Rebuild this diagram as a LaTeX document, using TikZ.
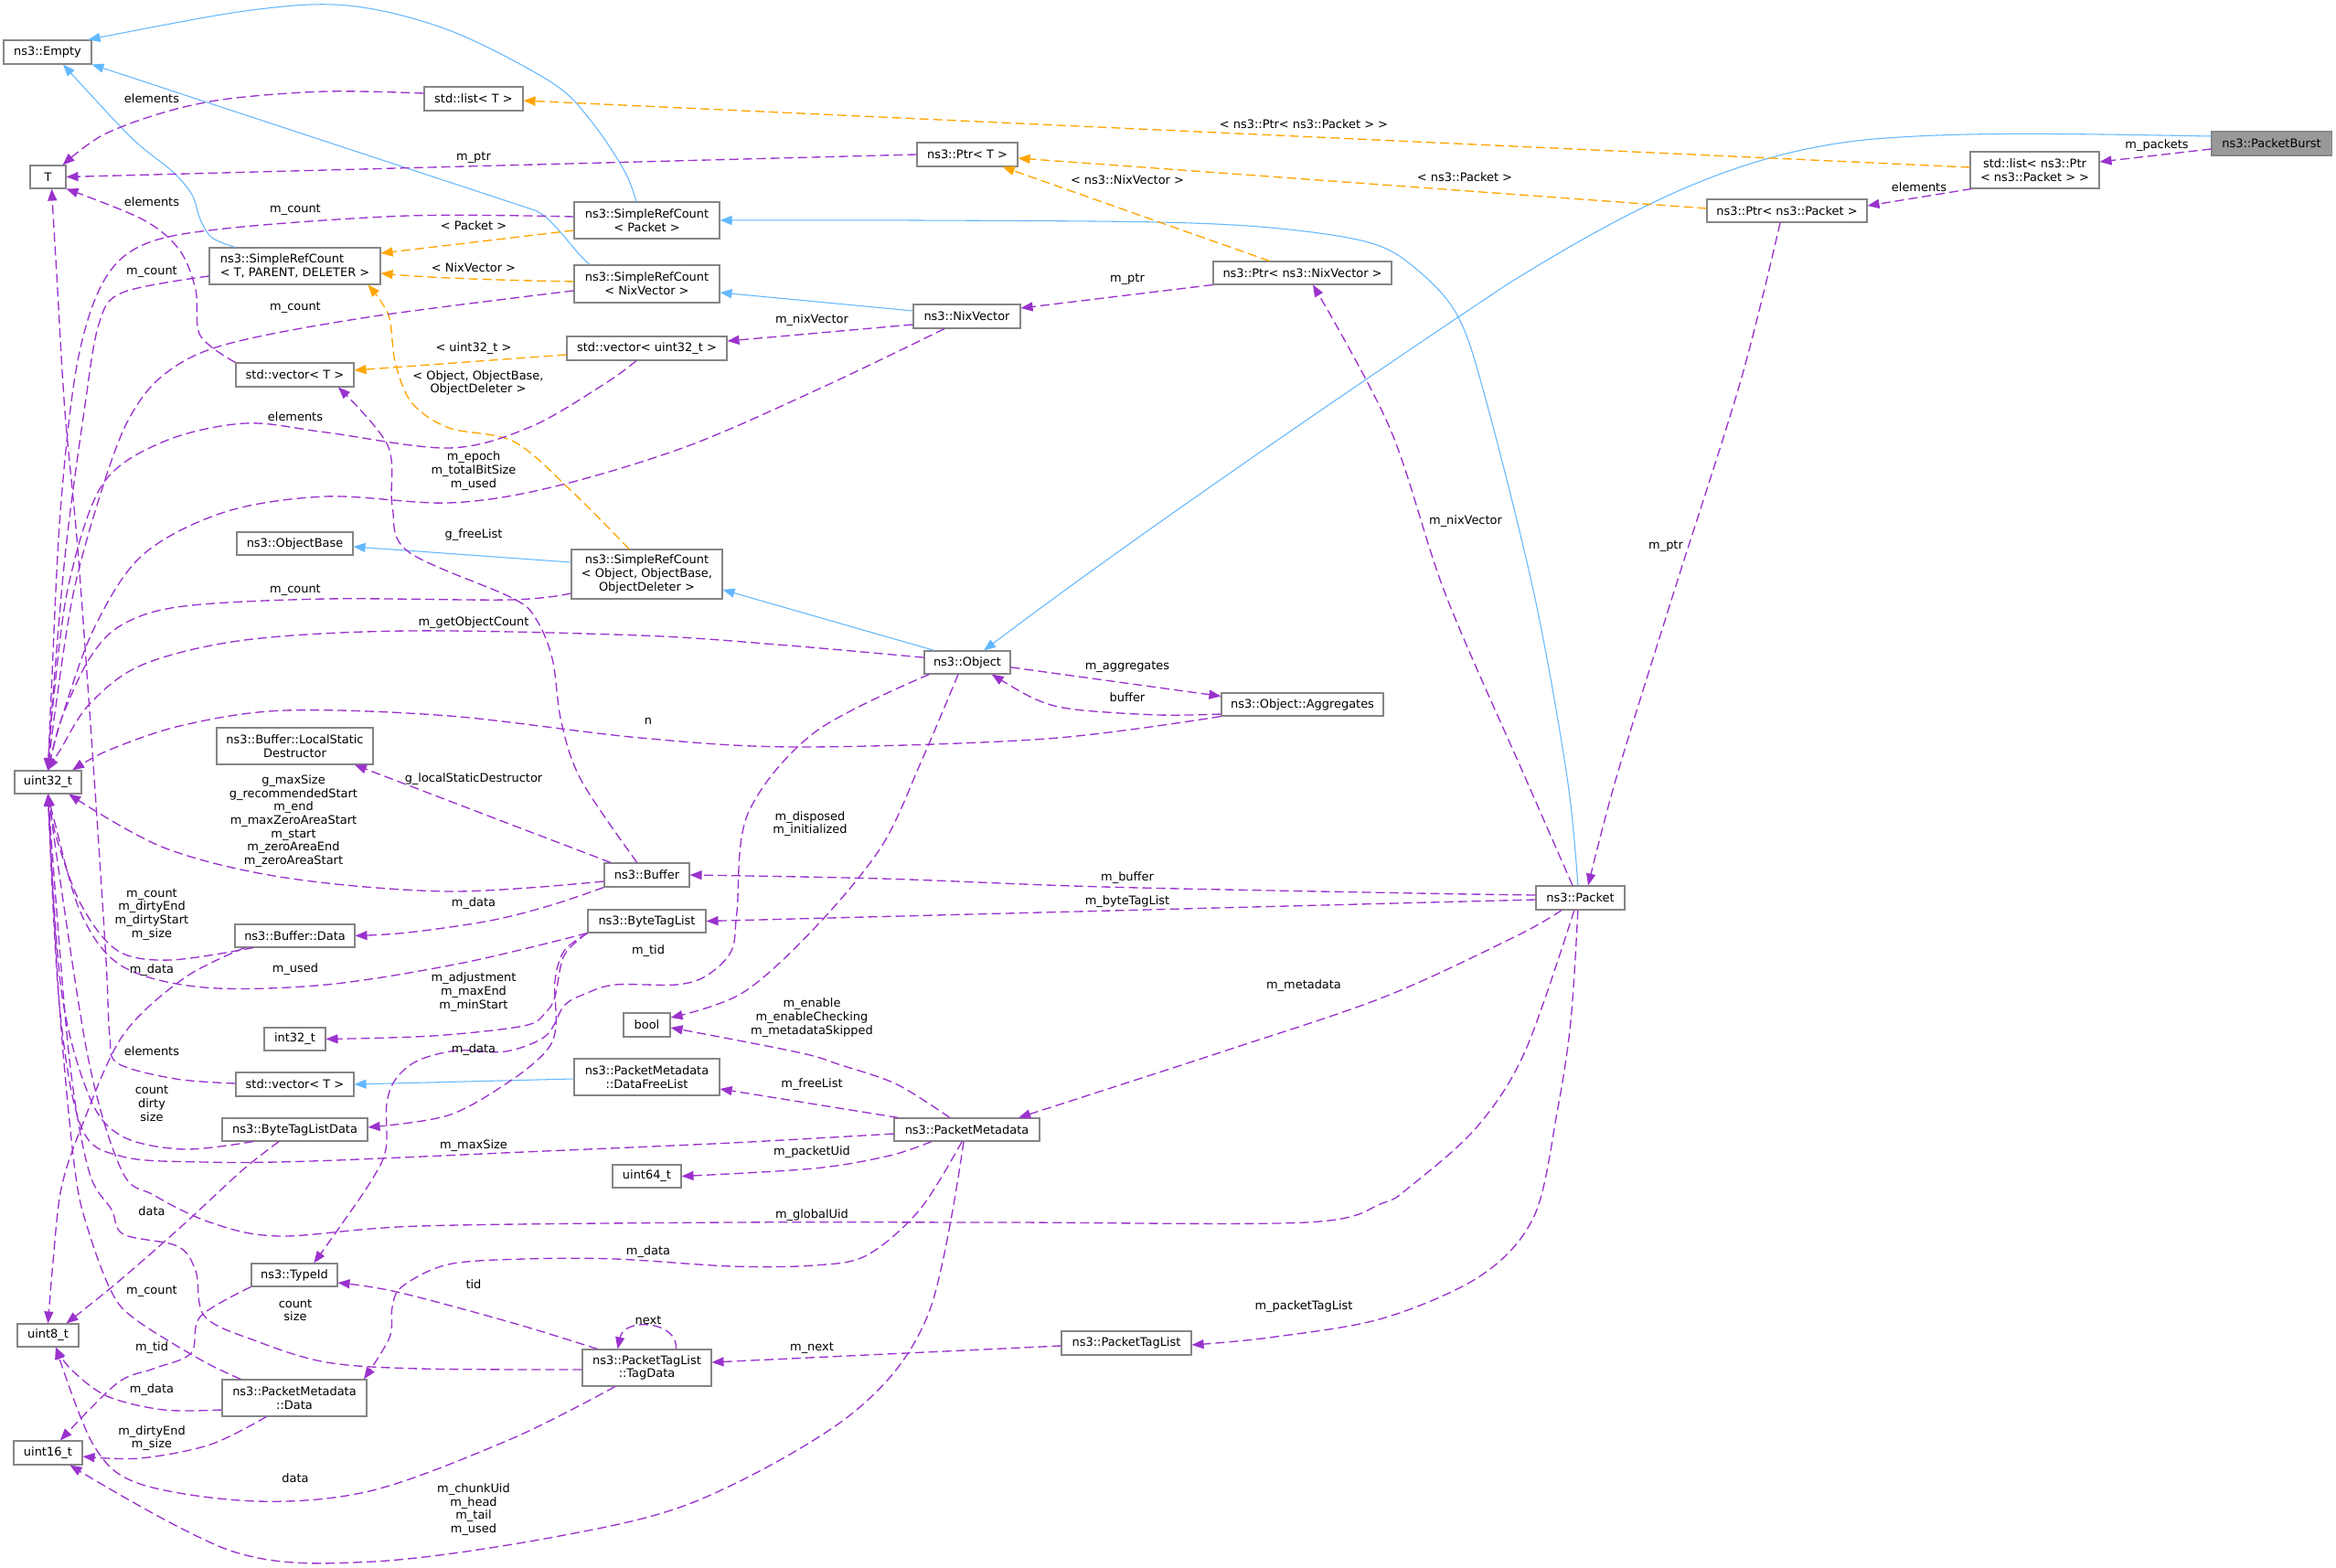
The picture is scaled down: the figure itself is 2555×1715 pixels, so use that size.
\documentclass[tikz,border=0pt]{standalone}
\usepackage{fontspec}
\setmainfont{DejaVu Sans}
\usetikzlibrary{arrows.meta}
\definecolor{inhblue}{HTML}{63B8FF}
\definecolor{usepurple}{HTML}{9A32CD}
\definecolor{tplorange}{HTML}{FFA500}
\definecolor{boxgray}{HTML}{858585}
\definecolor{burstgray}{HTML}{999999}
\newcommand\nf{\fontsize{9.7}{11}\selectfont}
\begin{document}
\begin{tikzpicture}[x=0.75pt,y=-0.75pt,
  box/.style={draw=boxgray,line width=0.8pt,fill=white,inner sep=0pt,align=center,font=\nf},
  lbl/.style={inner sep=0pt,align=center,font=\nf},
  tipx/.style={-{Triangle[length=9.75pt,width=7.5pt]}},
  inh/.style={draw=inhblue,line width=0.8pt,tipx},
  use/.style={draw=usepurple,line width=1pt,dash pattern=on 7.5pt off 3.75pt,tipx},
  tpl/.style={draw=tplorange,line width=1pt,dash pattern=on 7.5pt off 3.75pt,tipx},
  sm/.style={smooth,tension=0.55}
]
\fill[white] (0,0) rectangle (2555,1715);
\useasboundingbox (0,0) rectangle (2555,1715);

% ---------------- nodes ----------------
\node[box,minimum width=72pt,minimum height=19.5pt] (empty) at (52,57) {ns3::Empty};
\node[box,minimum width=81pt,minimum height=19.5pt] (listT) at (518,108) {std::list< T >};
\node[box,minimum width=29.25pt,minimum height=18.75pt] (T) at (52.5,193.5) {T};
\node[box,align=left,minimum width=140.25pt,minimum height=30pt] (srctpd) at (322.5,291) {ns3::SimpleRefCount\\< T, PARENT, DELETER >};
\node[box,minimum width=119.25pt,minimum height=30pt] (srcp) at (707.5,241) {ns3::SimpleRefCount\\< Packet >};
\node[box,minimum width=119.25pt,minimum height=30.75pt] (srcn) at (707.5,310.5) {ns3::SimpleRefCount\\< NixVector >};
\node[box,minimum width=82.5pt,minimum height=19.5pt] (ptrt) at (1058,169) {ns3::Ptr< T >};
\node[box,minimum width=146.25pt,minimum height=18.75pt] (ptrn) at (1424.5,298.5) {ns3::Ptr< ns3::NixVector >};
\node[box,minimum width=87.75pt,minimum height=19.5pt] (nix) at (1057.5,346) {ns3::NixVector};
\node[box,minimum width=131.25pt,minimum height=19.5pt] (vecu) at (707.5,381) {std::vector< uint32\_t >};
\node[box,minimum width=96.75pt,minimum height=19.5pt] (vect1) at (322.5,410) {std::vector< T >};
\node[box,minimum width=123.75pt,minimum height=40.5pt] (srco) at (707.5,628) {ns3::SimpleRefCount\\< Object, ObjectBase,\\ObjectDeleter >};
\node[box,minimum width=95.25pt,minimum height=18.75pt] (objbase) at (322.5,594.5) {ns3::ObjectBase};
\node[box,minimum width=54.75pt,minimum height=18.75pt] (u32) at (52.5,855.5) {uint32\_t};
\node[box,minimum width=128.25pt,minimum height=30pt] (lsd) at (322.5,816) {ns3::Buffer::LocalStatic\\Destructor};
\node[box,minimum width=70.5pt,minimum height=18.75pt] (obj) at (1058,724.5) {ns3::Object};
\node[box,minimum width=132.75pt,minimum height=18.75pt] (aggr) at (1424.5,770.5) {ns3::Object::Aggregates};
\node[box,minimum width=69.75pt,minimum height=19.5pt] (buf) at (707.5,957) {ns3::Buffer};
\node[box,minimum width=96.75pt,minimum height=18.75pt] (btl) at (707.5,1007.5) {ns3::ByteTagList};
\node[box,minimum width=98.25pt,minimum height=18.75pt] (bufdata) at (322.5,1023.5) {ns3::Buffer::Data};
\node[box,minimum width=50.25pt,minimum height=18.75pt] (i32) at (322.5,1136.5) {int32\_t};
\node[box,minimum width=38.25pt,minimum height=19.5pt] (boolt) at (707.5,1121) {bool};
\node[box,minimum width=96.75pt,minimum height=19.5pt] (vect2) at (322.5,1186) {std::vector< T >};
\node[box,minimum width=119.25pt,minimum height=30pt] (dfl) at (707.5,1178) {ns3::PacketMetadata\\::DataFreeList};
\node[box,minimum width=119.25pt,minimum height=18.75pt] (btld) at (322.5,1235.5) {ns3::ByteTagListData};
\node[box,minimum width=119.25pt,minimum height=18.75pt] (pm) at (1057.5,1235.5) {ns3::PacketMetadata};
\node[box,minimum width=56.25pt,minimum height=18.75pt] (u64) at (707.5,1286.5) {uint64\_t};
\node[box,minimum width=70.5pt,minimum height=18.75pt] (tid) at (322,1394.5) {ns3::TypeId};
\node[box,minimum width=118.5pt,minimum height=30pt] (pmd) at (322,1529) {ns3::PacketMetadata\\::Data};
\node[box,minimum width=105.75pt,minimum height=30pt] (tagd) at (707.5,1496) {ns3::PacketTagList\\::TagData};
\node[box,minimum width=106.5pt,minimum height=19.5pt] (ptl) at (1232,1469) {ns3::PacketTagList};
\node[box,minimum width=50.25pt,minimum height=18.75pt] (u8) at (52.5,1460.5) {uint8\_t};
\node[box,minimum width=56.25pt,minimum height=19.5pt] (u16) at (52.5,1589) {uint16\_t};
\node[box,minimum width=72.75pt,minimum height=19.5pt] (pkt) at (1728.5,982) {ns3::Packet};
\node[box,minimum width=131.25pt,minimum height=18.75pt] (ptrp) at (1954.5,230.5) {ns3::Ptr< ns3::Packet >};
\node[box,minimum width=105.75pt,minimum height=30pt] (listp) at (2225.5,186) {std::list< ns3::Ptr\\< ns3::Packet > >};
\node[box,fill=burstgray,minimum width=98.25pt,minimum height=19.5pt] (burst) at (2484.5,157) {ns3::PacketBurst};

% ---------------- inheritance (blue) ----------------
\draw[inh] plot[sm] coordinates {([xshift=-8.6pt]srcp.north) (683,187) (647,133) (603,90) (491,33) (380,6) (268,12) ([xshift=-3pt]empty.north east)};
\draw[inh] ([xshift=-47pt]srcn.north) .. controls (625,272) and (605,238) .. (585,230) -- (empty.south east);
\draw[inh] plot[sm] coordinates {([xshift=-49pt]srctpd.north) (232,260) (219,240) (210,213) (188,187) (143,150) ([xshift=12.75pt]empty.south)};
\draw[inh] plot[sm] coordinates {([xshift=-2pt]pkt.north) (1714,850) (1678,650) (1624,433) (1594,345) (1550,295) (1500,266) (1400,250) (1267,243) (1000,241) (srcp.east)};
\draw[inh] ([yshift=4.5pt]nix.west) -- ([yshift=-7.1pt]srcn.east);
\draw[inh] ([yshift=6pt]burst.west) .. controls (2250,146) and (2150,144) .. (2050,152) .. controls (1900,165) and (1780,230) .. (1650,310) .. controls (1500,410) and (1250,580) .. ([xshift=13.5pt]obj.north);
\draw[inh] ([xshift=-27pt]obj.north) -- ([yshift=-12.75pt]srco.east);
\draw[inh] ([yshift=9.75pt]srco.west) -- ([yshift=-2.6pt]objbase.east);
\draw[inh] ([yshift=-1.5pt]dfl.west) -- (vect2.east);

% ---------------- template (orange) ----------------
\draw[tpl] ([yshift=2.25pt]listp.west) -- ([yshift=-1.5pt]listT.east);
\draw[tpl] ([yshift=1.9pt]ptrp.west) -- ([yshift=-3pt]ptrt.east);
\draw[tpl] ([xshift=-27pt]ptrn.north) -- ([xshift=29pt]ptrt.south);
\draw[tpl] ([yshift=-8.25pt]srcp.west) -- ([yshift=10.5pt]srctpd.east);
\draw[tpl] ([yshift=1.9pt]srcn.west) .. controls (520,306) and (460,303) .. ([yshift=-6pt]srctpd.east);
\draw[tpl] plot[sm] coordinates {([xshift=-14.6pt]srco.north) (625,537) (562,483) (491,468) (450,440) (432,395) (425,345) ([xshift=-10.5pt]srctpd.south east)};
\draw[tpl] ([yshift=-5.25pt]vecu.west) -- ([yshift=3.75pt]vect1.east);

% ---------------- usage (purple) ----------------
\draw[use] ([yshift=-4.5pt]burst.west) -- ([yshift=6.75pt]listp.east);
\draw[use] ([xshift=1.5pt]listp.south west) -- ([yshift=4.1pt]ptrp.east);
\draw[use] plot[sm] coordinates {([xshift=-5.6pt]ptrp.south) (1904,416) (1830,650) (1768,850) ([xshift=6.4pt]pkt.north)};
\draw[use] (ptrn.south west) -- ([yshift=6.75pt]nix.east);
\draw[use] ([yshift=-6.75pt]nix.west) -- ([yshift=6pt]vecu.east);
\draw[use] plot[sm] coordinates {([xshift=-6.4pt]pkt.north) (1668,850) (1581,650) (1520,468) ([xshift=8.6pt]ptrn.south)};
\draw[use] ([yshift=-4pt]obj.east) -- ([yshift=-3pt]aggr.north west);
\draw[use] plot[sm] coordinates {([yshift=-7.9pt]aggr.west) (1267,782) (1176,776) (1133,765) ([xshift=20pt]obj.south)};
\draw[use] plot[sm] coordinates {([xshift=-7.5pt]obj.south) (1008,832) (964,926) (891,1015) (812,1086) ([yshift=6pt]boolt.east)};
\draw[use] plot[sm] coordinates {([xshift=4.5pt]obj.south west) (891,801) (818,890) (806,997) (800,1040) (773,1067) (740,1077) (673,1077) (640,1087) (617,1100) (597,1133) (553,1150) (500,1149) (457,1160) (433,1180) (423,1207) (422,1257) (407,1290) (373,1340) ([xshift=16pt]tid.north)};
\draw[use] plot[sm] coordinates {([yshift=4pt]obj.west) (850,705) (700,695) (446,690) (268,700) (156,727) (98,770) (66,820) (u32.north)};
\draw[use] plot[sm] coordinates {(aggr.south west) (1145,808) (873,817) (700,807) (491,783) (312,777) (201,793) (120,820) ([xshift=20pt]u32.north)};
\draw[use] plot[sm] coordinates {([yshift=3pt]srcp.west) (446,236) (246,250) (156,268) (112,310) (84,400) (66,560) (56,760) (u32.north)};
\draw[use] plot[sm] coordinates {([yshift=-8.25pt]srctpd.west) (134,320) (108,355) (92,450) (72,600) (58,760) (u32.north)};
\draw[use] plot[sm] coordinates {([yshift=-5.6pt]srcn.west) (402,347) (246,377) (179,410) (140,460) (110,540) (80,650) (60,780) (u32.north)};
\draw[use] plot[sm] coordinates {([xshift=-8.6pt]vecu.south) (661,420) (580,467) (491,490) (357,473) (268,463) (179,483) (112,530) (75,640) (58,770) (u32.north)};
\draw[use] plot[sm] coordinates {([xshift=-18.4pt]nix.south) (903,422) (752,488) (603,533) (491,550) (357,543) (246,560) (156,607) (103,687) (67,787) (u32.north)};
\draw[use] plot[sm] coordinates {([yshift=-15.75pt]srco.west) (558,656) (357,655) (201,663) (134,683) (98,720) (67,787) (u32.north)};
\draw[use] plot[sm] coordinates {([yshift=-5.25pt]buf.west) (491,975) (312,960) (179,927) ([xshift=17pt]u32.south)};
\draw[use] plot[sm] coordinates {([xshift=-34pt]bufdata.south) (187,1050) (129,1040) (89,990) (62,917) (u32.south)};
\draw[use] plot[sm] coordinates {(btl.south west) (507,1053) (357,1077) (223,1080) (134,1057) (89,1000) (60,900) (u32.south)};
\draw[use] plot[sm] coordinates {([xshift=-34pt]btld.south) (201,1257) (134,1243) (98,1200) (67,1083) (u32.south)};
\draw[use] plot[sm] coordinates {([yshift=-3.4pt]pm.west) (800,1250) (573,1260) (340,1270) (223,1271) (134,1265) (89,1233) (65,1100) (u32.south)};
\draw[use] plot[sm] coordinates {([xshift=-5pt]pkt.south) (1668,1150) (1615,1233) (1542,1298) (1512,1316) (1429,1337) (1100,1337) (800,1337) (459,1341) (306,1352) (230,1337) (168,1307) (133,1280) (95,1150) (u32.south)};
\draw[use] plot[sm] coordinates {([xshift=-44pt]pmd.north) (219,1487) (148,1443) (122,1413) (97,1347) (82,1280) (65,1100) (u32.south)};
\draw[use] plot[sm] coordinates {([yshift=-1.5pt]tagd.west) (459,1497) (357,1490) (281,1467) (224,1440) (214,1390) (194,1363) (135,1350) (122,1323) (97,1280) (75,1150) (u32.south)};
\draw[use] plot[sm] coordinates {([yshift=4.5pt]listT.west) (357,100) (250,108) (179,123) (112,148) ([xshift=12pt]T.north)};
\draw[use] (ptrt.west) -- (T.east);
\draw[use] plot[sm] coordinates {(vect1.north west) (219,367) (214,317) (196,273) (156,240) (T.south east)};
\draw[use] plot[sm] coordinates {([yshift=0.75pt]vect2.west) (192,1180) (129,1163) (120,1133) (116,1050) (103,850) (85,600) (71,450) (62,300) ([xshift=3pt]T.south)};
\draw[use] plot[sm] coordinates {([xshift=-8pt]buf.north) (636,854) (614,790) (604,720) (585,675) (558,653) (446,603) (429,553) (424,487) ([xshift=35.6pt]vect1.south)};
\draw[use] ([xshift=-29.6pt]buf.north) -- ([xshift=49pt]lsd.south);
\draw[use] plot[sm] coordinates {(buf.south west) (603,990) (536,1007) (446,1020) (bufdata.east)};
\draw[use] plot[sm] coordinates {([yshift=2.25pt]pkt.west) (1550,977) (1206,970) (964,961) (buf.east)};
\draw[use] ([yshift=-1.5pt]pkt.west) -- (btl.east);
\draw[use] plot[sm] coordinates {([xshift=-15.4pt]pkt.south) (1660,1023) (1515,1090) (1338,1150) ([xshift=42.4pt]pm.north)};
\draw[use] plot[sm] coordinates {([xshift=-2pt]pkt.south) (1718,1117) (1703,1217) (1678,1330) (1620,1395) (1512,1442) (1388,1463) ([yshift=-1.5pt]ptl.east)};
\draw[use] plot[sm] coordinates {(btl.south west) (617,1040) (607,1073) (608,1123) (597,1150) (557,1183) (490,1220) ([yshift=1.9pt]btld.east)};
\draw[use] plot[sm] coordinates {(btl.south west) (617,1045) (607,1090) (597,1107) (573,1122) (473,1133) (i32.east)};
\draw[use] plot[sm] coordinates {([xshift=-14pt]pm.north) (981,1186) (920,1165) (873,1151) ([yshift=-2.25pt]boolt.east)};
\draw[use] ([xshift=3.75pt]pm.north west) -- ([yshift=-9.75pt]dfl.east);
\draw[use] plot[sm] coordinates {([xshift=-29pt]pm.south) (973,1264) (890,1278) (u64.east)};
\draw[use] plot[sm] coordinates {([xshift=-4pt]pm.south) (1006,1323) (948,1373) (890,1384) (800,1385) (673,1377) (573,1377) (490,1383) (440,1407) (429,1430) (426,1463) ([xshift=57pt]pmd.north)};
\draw[use] plot[sm] coordinates {([xshift=-2.6pt]pm.south) (1015,1438) (932,1546) (766,1640) (612,1680) (408,1708) (255,1697) ([xshift=18pt]u16.south)};
\draw[use] ([yshift=-2.25pt]ptl.west) -- ([yshift=4.5pt]tagd.east);
\draw[use] plot[sm] coordinates {([xshift=12.75pt]tagd.north west) (561,1447) (434,1413) ([yshift=-6.4pt]tid.east)};
\draw[use] ([xshift=24pt]tagd.north) .. controls (742,1445) and (683,1440) .. ([xshift=-24pt]tagd.north);
\draw[use] plot[sm] coordinates {([xshift=-26pt]tagd.south) (561,1573) (408,1630) (281,1642) (153,1623) (102,1580) ([xshift=6.4pt]u8.south)};
\draw[use] plot[sm] coordinates {(tid.south west) (219,1440) (209,1480) (168,1497) (128,1513) ([xshift=10pt]u16.north)};
\draw[use] plot[sm] coordinates {([yshift=-9.75pt]pmd.west) (179,1542) (117,1527) (77,1497) ([xshift=6.4pt]u8.south)};
\draw[use] plot[sm] coordinates {([xshift=-23pt]pmd.south) (230,1580) (153,1595) ([yshift=-3pt]u16.east)};
\draw[use] plot[sm] coordinates {([xshift=-13pt]btld.south) (265,1280) (200,1340) (128,1403) ([xshift=15pt]u8.north)};
\draw[use] plot[sm] coordinates {([xshift=-41pt]bufdata.south) (201,1070) (134,1133) (89,1233) (67,1300) (58,1380) (u8.north)};

% ---------------- labels ----------------
\node[lbl] (l01) at (166,108) {elements};
\node[lbl] (l02) at (518,172) {m\_ptr};
\node[lbl] (l03) at (166,221) {elements};
\node[lbl] (l04) at (323,229) {m\_count};
\node[lbl] (l05) at (518,247) {< Packet >};
\node[lbl] (l06) at (166,297) {m\_count};
\node[lbl] (l07) at (518,293) {< NixVector >};
\node[lbl] (l08) at (323,336) {m\_count};
\node[lbl] (l09) at (888,350) {m\_nixVector};
\node[lbl] (l10) at (1233,305) {m\_ptr};
\node[lbl] (l11) at (1233,197) {< ns3::NixVector >};
\node[lbl] (l12) at (1602,194) {< ns3::Packet >};
\node[lbl] (l13) at (2099,205) {elements};
\node[lbl] (l14) at (2359,159) {m\_packets};
\node[lbl] (l15) at (1426,136) {< ns3::Ptr< ns3::Packet > >};
\node[lbl] (l16) at (518,381) {< uint32\_t >};
\node[lbl] (l17) at (523,419) {< Object, ObjectBase,\\ObjectDeleter >};
\node[lbl] (l18) at (323,456) {elements};
\node[lbl] (l19) at (518,515) {m\_epoch\\m\_totalBitSize\\m\_used};
\node[lbl] (l20) at (518,585) {g\_freeList};
\node[lbl] (l21) at (323,645) {m\_count};
\node[lbl] (l22) at (518,681) {m\_getObjectCount};
\node[lbl] (l23) at (1233,729) {m\_aggregates};
\node[lbl] (l24) at (1233,763) {buffer};
\node[lbl] (l25) at (709,789) {n};
\node[lbl] (l26) at (1603,570) {m\_nixVector};
\node[lbl] (l27) at (1822,597) {m\_ptr};
\node[lbl] (l28) at (321,898) {g\_maxSize\\g\_recommendedStart\\m\_end\\m\_maxZeroAreaStart\\m\_start\\m\_zeroAreaEnd\\m\_zeroAreaStart};
\node[lbl] (l29) at (518,852) {g\_localStaticDestructor};
\node[lbl] (l30) at (886,901) {m\_disposed\\m\_initialized};
\node[lbl] (l31) at (1233,960) {m\_buffer};
\node[lbl] (l32) at (1233,986) {m\_byteTagList};
\node[lbl] (l33) at (518,988) {m\_data};
\node[lbl] (l34) at (166,1000) {m\_count\\m\_dirtyEnd\\m\_dirtyStart\\m\_size};
\node[lbl] (l35) at (166,1061) {m\_data};
\node[lbl] (l36) at (323,1060) {m\_used};
\node[lbl] (l37) at (709,1040) {m\_tid};
\node[lbl] (l38) at (1426,1078) {m\_metadata};
\node[lbl] (l39) at (518,1085) {m\_adjustment\\m\_maxEnd\\m\_minStart};
\node[lbl] (l40) at (888,1113) {m\_enable\\m\_enableChecking\\m\_metadataSkipped};
\node[lbl] (l41) at (518,1148) {m\_data};
\node[lbl] (l42) at (166,1150) {elements};
\node[lbl] (l43) at (888,1186) {m\_freeList};
\node[lbl] (l44) at (166,1207) {count\\dirty\\size};
\node[lbl] (l45) at (518,1253) {m\_maxSize};
\node[lbl] (l46) at (888,1260) {m\_packetUid};
\node[lbl] (l47) at (166,1325) {data};
\node[lbl] (l48) at (888,1329) {m\_globalUid};
\node[lbl] (l49) at (709,1369) {m\_data};
\node[lbl] (l50) at (518,1405) {tid};
\node[lbl] (l51) at (166,1412) {m\_count};
\node[lbl] (l52) at (323,1433) {count\\size};
\node[lbl] (l53) at (1426,1429) {m\_packetTagList};
\node[lbl] (l54) at (709,1444) {next};
\node[lbl] (l55) at (888,1474) {m\_next};
\node[lbl] (l56) at (166,1474) {m\_tid};
\node[lbl] (l57) at (166,1520) {m\_data};
\node[lbl] (l58) at (166,1573) {m\_dirtyEnd\\m\_size};
\node[lbl] (l59) at (323,1617) {data};
\node[lbl] (l60) at (518,1651) {m\_chunkUid\\m\_head\\m\_tail\\m\_used};
\end{tikzpicture}
\end{document}
